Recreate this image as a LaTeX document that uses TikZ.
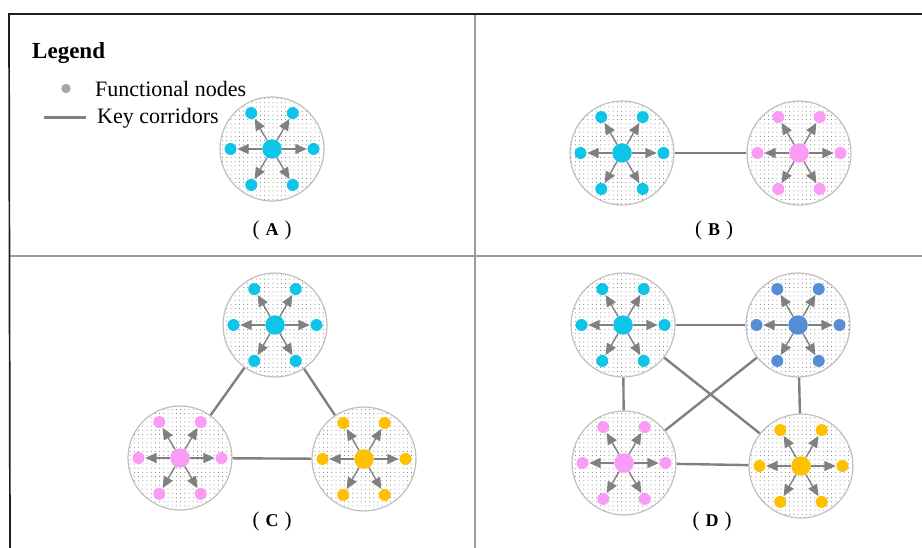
\documentclass[tikz,border=0pt]{standalone}
\usepackage{fontspec}
\setmainfont{Liberation Serif}
\usetikzlibrary{arrows.meta,patterns.meta,calc}

\definecolor{hubcyan}{HTML}{0EC5E8}
\definecolor{hubpink}{HTML}{FA9CF5}
\definecolor{hubblue}{HTML}{558ED5}
\definecolor{hubgold}{HTML}{FFC000}
\definecolor{zoneedge}{HTML}{BFBFBF}
\definecolor{linkgray}{HTML}{808080}
\definecolor{framedark}{HTML}{1E1E1E}
\definecolor{framegray}{HTML}{9C9C9C}
\definecolor{legendgray}{HTML}{A6A6A6}

\tikzset{
  zone/.style={circle, draw=zoneedge, line width=1.2pt, minimum size=104pt,
    inner sep=0pt, pattern={Dots[distance=4.2pt,radius=0.5pt]}, pattern color=black!55},
  hub/.style={circle, minimum size=19.5pt, inner sep=0pt},
  sat/.style={circle, minimum size=12pt, inner sep=0pt},
  spoke/.style={draw=linkgray, line width=1.4pt,
    -{Triangle[length=11.5pt,width=10pt]}, shorten >=0.5pt},
  corridor/.style={draw=linkgray, line width=2.4pt},
  outerrule/.style={draw=framedark, line width=1.7pt},
  innerrule/.style={draw=framegray, line width=1.6pt},
  legtitle/.style={anchor=base west, inner sep=0pt, font=\fontsize{23}{26}\selectfont\bfseries},
  legtext/.style={anchor=base west, inner sep=0pt, font=\fontsize{22}{25}\selectfont},
  panellabel/.style={anchor=base, inner sep=0pt, font=\fontsize{18}{20}\selectfont},
}

% a dotted zone with a hub feeding six functional nodes
\newcommand{\hubcluster}[4]{%
  \node[zone] (#1) at (#2,#3) {};
  \node[hub, fill=#4] (#1-h) at (#1.center) {};
  \foreach \k/\a in {1/0,2/60,3/120,4/180,5/240,6/300}{
    \node[sat, fill=#4] (#1-s\k) at ($(#1.center)+(\a:41.5)$) {};
    \draw[spoke] (#1-h) -- (#1-s\k);
  }%
}
\newcommand{\plabel}[1]{{\fontsize{21}{22}\selectfont(}\hspace{6pt}\textbf{#1}\hspace{6pt}{\fontsize{21}{22}\selectfont)}}

\begin{document}
\begin{tikzpicture}[x=1pt, y=-1pt]
  \useasboundingbox (0,0) rectangle (922,548);

  % table frame
  \coordinate (f-tl) at (9,14);
  \coordinate (f-tr) at (922,14);
  \coordinate (f-bl) at (10,548);
  \coordinate (f-mt) at (475,14);
  \coordinate (f-mb) at (475,548);
  \coordinate (f-ml) at (10,256);
  \coordinate (f-mr) at (922,256);
  \draw[innerrule] (f-mt) -- (f-mb);
  \draw[innerrule] (f-ml) -- (f-mr);
  \draw[outerrule] (f-tr) -- (f-tl) -- (f-bl);

  % legend
  \node[legtitle] (leg) at (32,58.5) {Legend};
  \node[circle, fill=legendgray, minimum size=9.5pt, inner sep=0pt] (leg-dot) at (66,88.5) {};
  \node[legtext] (leg-dot-t) at (95,96.5) {Functional nodes};
  \coordinate (leg-l1) at (44,117.5);
  \coordinate (leg-l2) at (86,117.5);
  \draw[draw=linkgray, line width=3.6pt] (leg-l1) -- (leg-l2);
  \node[legtext] (leg-line-t) at (97,123.5) {Key corridors};

  % (A)
  \hubcluster{a1}{272}{149}{hubcyan}
  \node[panellabel] (labA) at (272,236) {\plabel{A}};

  % (B)
  \hubcluster{b1}{622}{153}{hubcyan}
  \hubcluster{b2}{799}{153}{hubpink}
  \draw[corridor] (b1) -- (b2);
  \node[panellabel] (labB) at (714,236) {\plabel{B}};

  % (C)
  \hubcluster{c1}{275}{325}{hubcyan}
  \hubcluster{c2}{180}{458}{hubpink}
  \hubcluster{c3}{364}{459}{hubgold}
  \draw[corridor] (c1) -- (c2);
  \draw[corridor] (c1) -- (c3);
  \draw[corridor] (c2) -- (c3);
  \node[panellabel] (labC) at (272,526) {\plabel{C}};

  % (D)
  \hubcluster{d1}{623}{325}{hubcyan}
  \hubcluster{d2}{798}{325}{hubblue}
  \hubcluster{d3}{624}{463}{hubpink}
  \hubcluster{d4}{801}{466}{hubgold}
  \draw[corridor] (d1) -- (d2);
  \draw[corridor] (d1) -- (d3);
  \draw[corridor] (d2) -- (d4);
  \draw[corridor] (d3) -- (d4);
  \draw[corridor] (d1) -- (d4);
  \draw[corridor] (d3) -- (d2);
  \node[panellabel] (labD) at (712,526) {\plabel{D}};
\end{tikzpicture}
\end{document}
